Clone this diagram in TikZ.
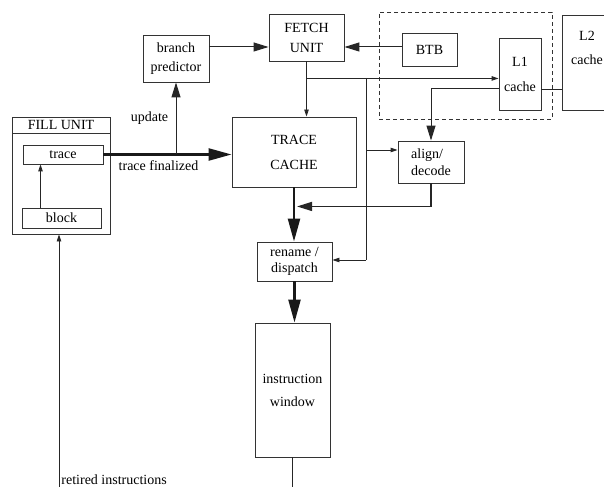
\documentclass[tikz,border=0pt]{standalone}
\usepackage{fontspec}
\setmainfont{Liberation Serif}
\usetikzlibrary{arrows.meta}

\begin{document}
\begin{tikzpicture}[x=1bp,y=-1bp,
    font=\fontsize{14bp}{16bp}\selectfont,
    unit/.style={draw=black!80,line width=0.9bp,align=center,inner sep=0pt},
    group/.style={draw=black!80,line width=0.9bp,dash pattern=on 4bp off 3bp},
    bigarr/.style={draw=black!90,line width=2.4bp,-{Triangle[length=23bp,width=12bp]}},
    midarr/.style={draw=black!85,line width=1bp,-{Triangle[length=15bp,width=9bp]}},
    smallarr/.style={draw=black!85,line width=0.9bp,-{Triangle[length=7bp,width=4.5bp]}},
    plain/.style={draw=black!85,line width=0.9bp}
  ]
  \useasboundingbox (0,0) rectangle (604,487);
  \clip (0,0) rectangle (604,487);

  % fill unit
  \node[unit,minimum width=98bp,minimum height=117bp] (fill) at (61,175.5) {};
  \node[unit,minimum width=98bp,minimum height=16bp,anchor=north] (filltitle) at (fill.north) {FILL UNIT};
  \node[unit,minimum width=80bp,minimum height=19bp] (trace) at (63,154.5) {trace};
  \node[unit,minimum width=79bp,minimum height=20bp] (block) at (61.5,218) {block};

  % front end
  \node[unit,minimum width=66bp,minimum height=47bp] (bp) at (176,58.5) {branch\\[3bp]predictor};
  \node[unit,minimum width=75bp,minimum height=47bp] (fetch) at (306.5,37.5) {FETCH\\[4bp]UNIT};
  \node[unit,minimum width=124bp,minimum height=70bp] (tc) at (294,152) {TRACE\\[9bp]CACHE};
  \node[group,minimum width=173bp,minimum height=107bp] (l1grp) at (465.5,65.5) {};
  \node[unit,minimum width=55bp,minimum height=33bp] (btb) at (429.5,49.5) {BTB};
  \node[unit,minimum width=42bp,minimum height=72bp] (l1) at (520,74) {L1\\[9bp]cache};
  \node[unit,minimum width=50bp,minimum height=95bp] (l2) at (587,62.5) {L2\\[8bp]cache\\[8bp]\strut};
  \node[unit,minimum width=66bp,minimum height=42bp,align=left] (align) at (431,162) {align/\\[1bp]decode};

  % back end
  \node[unit,minimum width=75bp,minimum height=39bp] (rename) at (294.5,261.5) {rename /\\dispatch};
  \node[unit,minimum width=75bp,minimum height=134bp] (window) at (292.5,390) {instruction\\[7bp]window};

  \coordinate (fj) at ([yshift=-17bp]fetch.south);
  \coordinate (vtop) at (366,78);
  \coordinate (vbot) at (366,260);
  \coordinate (alin) at ([yshift=12bp]align.west);
  \coordinate (aj) at ([yshift=-23bp]align.south);
  \coordinate (ret) at (59,487);

  % connectors
  \draw[smallarr] ([xshift=-21bp]block.north) -- ([xshift=-21bp]block.north |- trace.south);
  \draw[bigarr] (trace.east) -- (trace.east -| tc.west)
    node[pos=0.43,below=2bp] (finlbl) {trace finalized};
  \draw[midarr] (trace.east -| bp.south) -- (bp.south)
    node[pos=0.5,left=4bp] (updlbl) {update};
  \draw[midarr] ([yshift=11.5bp]bp.east) -- ([yshift=11.5bp]bp.east -| fetch.west);
  \draw[midarr] ([yshift=2.5bp]btb.west) -- ([yshift=2.5bp]btb.west -| fetch.east);
  \draw[smallarr] (fetch.south) -- (fetch.south |- tc.north);
  \draw[smallarr] (fj) -- (fj -| l1.west);
  \draw[plain] (vtop) -- (vbot);
  \draw[smallarr] (vbot) -- (vbot -| rename.east);
  \draw[smallarr] (alin -| vtop) -- (alin);
  \draw[midarr] ([yshift=-15bp]l1.west) -| (align.north);
  \draw[plain] ([yshift=-15bp]l1.east) -- ([yshift=-15bp]l1.east -| l2.west);
  \draw[midarr,line width=1.4bp] (align.south) -- (aj) -- ([xshift=3bp]aj -| tc.south);
  \draw[bigarr] (tc.south) -- (tc.south |- rename.north);
  \draw[bigarr] (rename.south) -- (rename.south |- window.north);
  \draw[plain] (window.south) -- ++(0,40);
  \draw[smallarr] (ret) node[above right,inner sep=2bp] (retlbl) {retired instructions} -- (ret |- fill.south);
\end{tikzpicture}
\end{document}
